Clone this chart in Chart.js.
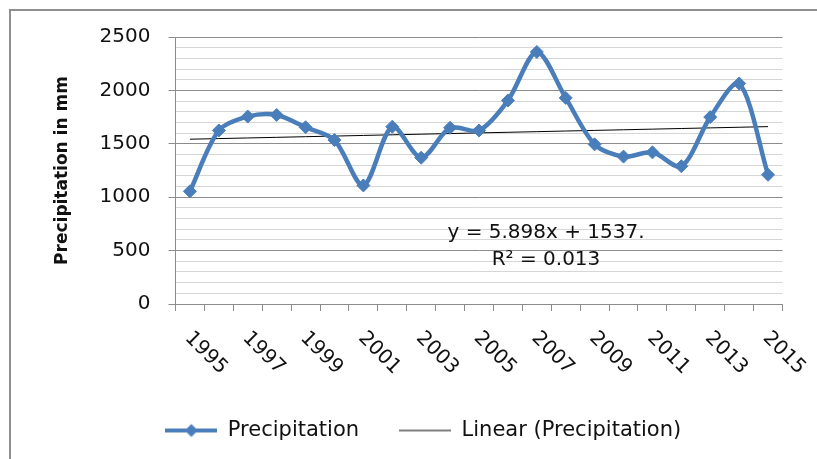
<!DOCTYPE html>
<html>
<head>
<meta charset="utf-8">
<script src="https://cdn.jsdelivr.net/npm/chart.js@4/dist/chart.umd.min.js"></script>
<style>
    html, body { margin: 0; padding: 0; background: #fff; overflow: hidden; }
    #wrap { position: relative; width: 817px; height: 459px; }
    #frame {
        position: absolute; left: 9px; top: 9px; right: -10px; bottom: -10px;
        border: 2px solid #8f8f8f;
    }
    canvas { position: absolute; left: 0; top: 0; }
</style>
</head>
<body>
<div id="wrap">
    <div id="frame"></div>
    <canvas id="rainChart" width="817" height="459"></canvas>
</div>
<script>
const years = ['1995', '1996', '1997', '1998', '1999', '2000', '2001', '2002', '2003', '2004',
               '2005', '2006', '2007', '2008', '2009', '2010', '2011', '2012', '2013', '2014', '2015'];
const precipitation = [1055, 1625, 1755, 1770, 1655, 1535, 1110, 1660, 1370, 1650,
                       1625, 1905, 2360, 1930, 1495, 1380, 1420, 1290, 1750, 2065, 1210];
const yTicks = [0, 500, 1000, 1500, 2000, 2500];
// trendline as printed on the chart (x = 1..21)
const trendSlope = 5.898;
const trendIntercept = 1537;
const trendLabel = ['y = 5.898x + 1537.', 'R\u00B2 = 0.013'];

const blue = '#4A7EBB';
const majorGrid = '#8c8c8c';
const minorGrid = '#d6d6d6';
const textColor = '#111';
const font = 'DejaVu Sans';

const trend = years.map((y, i) => trendSlope * (i + 1) + trendIntercept);

// legend icons: line with marker, plain thin line
function makeIcon(withMarker) {
    const c = document.createElement('canvas');
    c.width = 52;
    c.height = 16;
    const g = c.getContext('2d');
    g.strokeStyle = withMarker ? blue : '#000';
    g.lineWidth = withMarker ? 4 : 1;
    g.beginPath();
    g.moveTo(0, 8);
    g.lineTo(52, 8);
    g.stroke();
    if (withMarker) {
        g.fillStyle = blue;
        g.beginPath();
        g.moveTo(26, 1.5);
        g.lineTo(32.5, 8);
        g.lineTo(26, 14.5);
        g.lineTo(19.5, 8);
        g.closePath();
        g.fill();
    }
    return c;
}
const legendIcons = [makeIcon(true), makeIcon(false)];

// rotated year labels (every second one) and trendline equation
const extraText = {
    id: 'extraText',
    afterDraw(chart) {
        const ctx = chart.ctx;
        const xs = chart.scales.x;
        ctx.save();
        ctx.fillStyle = textColor;
        ctx.font = '20px "' + font + '"';
        ctx.textAlign = 'left';
        ctx.textBaseline = 'top';
        years.forEach((label, i) => {
            if (i % 2 !== 0) return;
            const x = xs.getPixelForValue(i);
            ctx.save();
            ctx.translate(x + 5, 328);
            ctx.rotate(Math.PI / 4);
            ctx.fillText(label, 0, 0);
            ctx.restore();
        });
        ctx.textAlign = 'center';
        ctx.textBaseline = 'middle';
        ctx.fillText(trendLabel[0], 546, 233);
        ctx.fillText(trendLabel[1], 546, 260);
        ctx.restore();
    }
};

const padLeft = 64;

const ctx = document.getElementById('rainChart').getContext('2d');
new Chart(ctx, {
    type: 'line',
    data: {
        labels: years,
        datasets: [
            {
                label: 'Precipitation',
                data: precipitation,
                borderColor: blue,
                backgroundColor: blue,
                borderWidth: 4.5,
                tension: 0.3,
                pointStyle: 'rectRot',
                pointRadius: 6.5,
                pointBorderWidth: 1,
                pointBackgroundColor: blue,
                pointBorderColor: blue
            },
            {
                label: 'Linear (Precipitation)',
                data: trend,
                borderColor: '#000',
                backgroundColor: '#000',
                borderWidth: 1,
                tension: 0,
                pointRadius: 0
            }
        ]
    },
    options: {
        responsive: false,
        animation: false,
        layout: {
            padding: { left: padLeft, right: 34.5, top: 37, bottom: 8 }
        },
        scales: {
            x: {
                type: 'category',
                offset: true,
                grid: {
                    offset: true,
                    drawOnChartArea: false,
                    drawTicks: true,
                    tickLength: 7,
                    tickColor: majorGrid
                },
                border: { color: majorGrid, width: 1 },
                ticks: { display: false },
                afterFit(scale) { scale.height = 76; }
            },
            y: {
                min: 0,
                max: 2500,
                grid: {
                    color: c => (c.tick && c.tick.value % 500 === 0) ? majorGrid : minorGrid,
                    tickColor: c => (c.tick && c.tick.value % 500 === 0) ? majorGrid : 'rgba(0,0,0,0)',
                    tickLength: 7
                },
                border: { color: majorGrid, width: 1 },
                ticks: {
                    stepSize: 100,
                    autoSkip: false,
                    padding: 18,
                    color: textColor,
                    font: { family: font, size: 20 },
                    callback: v => yTicks.includes(v) ? String(v) : ''
                },
                title: {
                    display: true,
                    text: 'Precipitation in mm',
                    color: textColor,
                    font: { family: font, size: 17, weight: 'bold' },
                    padding: { top: -12, bottom: 0 }
                },
                afterFit(scale) { scale.width = 175.5 - padLeft; }
            }
        },
        plugins: {
            legend: {
                position: 'bottom',
                labels: {
                    usePointStyle: true,
                    pointStyleWidth: 52,
                    padding: 40,
                    color: textColor,
                    font: { family: font, size: 21 },
                    generateLabels(chart) {
                        const items = Chart.defaults.plugins.legend.labels.generateLabels(chart);
                        items.forEach((item, i) => { item.pointStyle = legendIcons[i]; });
                        return items;
                    }
                }
            },
            tooltip: { enabled: false }
        }
    },
    plugins: [extraText]
});
</script>
</body>
</html>
